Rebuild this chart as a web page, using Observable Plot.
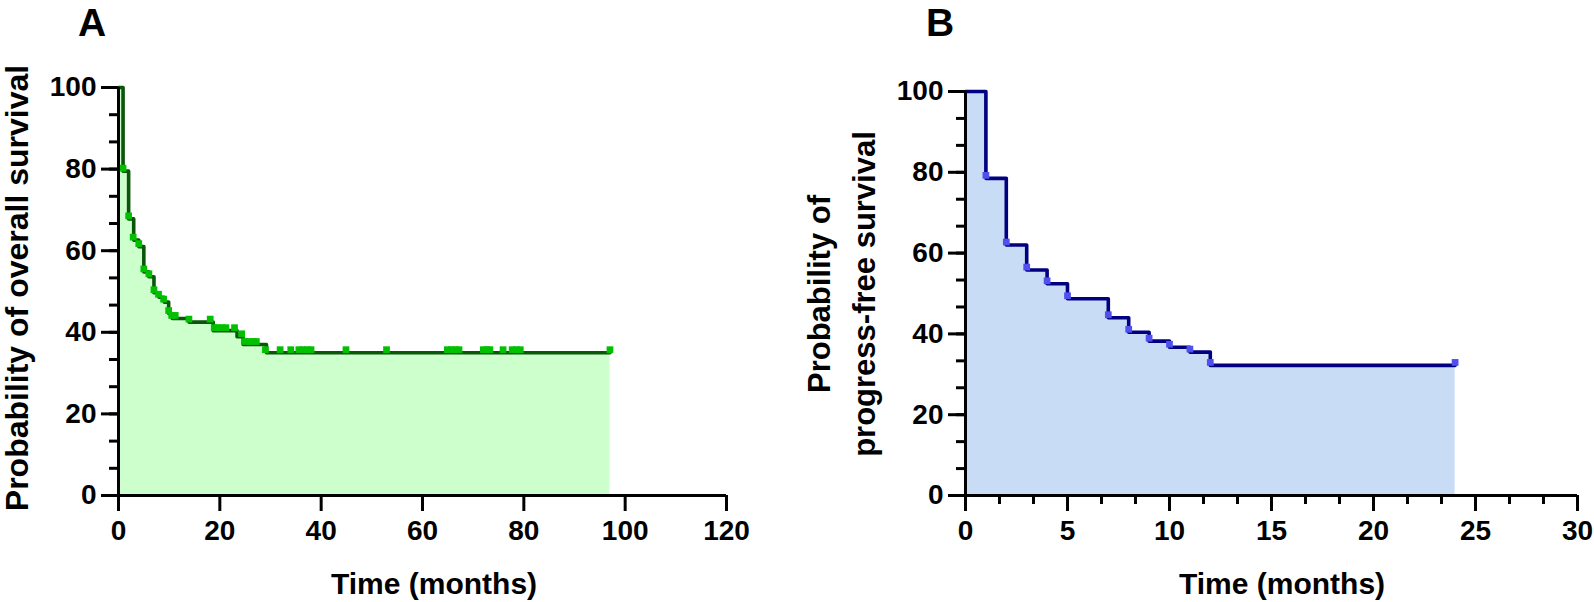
<!DOCTYPE html>
<html><head><meta charset="utf-8">
<script src="https://cdn.jsdelivr.net/npm/d3@7"></script>
<script src="https://cdn.jsdelivr.net/npm/@observablehq/plot@0.6"></script>
<style>
html,body{margin:0;padding:0;background:#fff;}
#wrap{position:relative;width:1594px;height:602px;overflow:hidden;font-family:"Liberation Sans",Arial,sans-serif;font-weight:bold;color:#000;background:#fff;}
.panel{position:absolute;top:0;}
.panel svg{overflow:visible;}
.lbl{position:absolute;white-space:nowrap;font-weight:bold;line-height:1;}
.rot{transform:translate(-50%,-50%) rotate(-90deg);text-align:center;}
</style></head><body><div id="wrap"></div>
<script>
// ---- Panel A: overall survival (step times and survival after each step, %)
const osTime = [0, 0.9, 2.0, 3.0, 4.0, 5.0, 6.0, 7.0, 8.0, 9.0, 9.9, 10.6, 13.9, 18.7, 23.4, 24.6, 29.2, 97];
const osSurv = [100, 79.5, 67.8, 62.6, 61.0, 54.8, 53.6, 49.7, 48.6, 47.4, 44.6, 43.4, 42.5, 40.4, 38.9, 37.0, 35.0, 35.0];
// censor marks
const osCensTime = [0.9, 2.0, 2.9, 4.0, 5.0, 6.0, 7.0, 7.9, 8.9, 9.9, 10.5, 11.2, 13.9, 18.1, 18.9, 19.6, 20.4, 21.2, 22.9, 24.3, 25.0, 25.8, 26.6, 27.2, 29.0, 31.9, 34.0, 35.6, 36.4, 37.2, 38.0, 44.9, 52.9, 64.9, 65.7, 66.5, 67.2, 72.0, 72.7, 73.3, 75.9, 77.7, 78.5, 79.3, 97];
const osCensSurv = [79.5, 67.8, 62.6, 61.0, 54.8, 53.6, 49.7, 48.6, 47.4, 44.6, 43.4, 43.4, 42.5, 42.5, 40.4, 40.4, 40.4, 40.4, 40.4, 38.9, 37.0, 37.0, 37.0, 37.0, 35.0, 35.0, 35.0, 35.0, 35.0, 35.0, 35.0, 35.0, 35.0, 35.0, 35.0, 35.0, 35.0, 35.0, 35.0, 35.0, 35.0, 35.0, 35.0, 35.0, 35.0];
const osXTicks = [0, 20, 40, 60, 80, 100, 120];

// ---- Panel B: progress-free survival
const pfsTime = [0, 1, 2, 3, 4, 5, 7, 8, 9, 10, 11, 12, 24];
const pfsSurv = [100, 78.5, 62.0, 55.8, 52.4, 48.7, 44.0, 40.4, 38.2, 36.7, 35.5, 32.2, 32.2];
const pfsCensTime = [1, 2, 3, 4, 5, 7, 8, 9, 10, 11, 12, 24];
const pfsCensSurv = [78.5, 62.0, 55.8, 52.4, 48.7, 44.0, 40.4, 38.2, 36.7, 35.5, 32.2, 32.2];
const pfsXTicks = [0, 5, 10, 15, 20, 25, 30];

const yTicks = [0, 20, 40, 60, 80, 100];

function kmPlot(cfg) {
  const rows = cfg.time.map((t, i) => ({t, s: cfg.surv[i]}));
  const cens = cfg.cTime.map((t, i) => ({t, s: cfg.cSurv[i]}));
  const yMinor = d3.range(0, 100.01, 20 / 3);
  const xMax = cfg.xTicks[cfg.xTicks.length - 1];
  const marks = [
    Plot.areaY(rows, {x: "t", y: "s", curve: "step-after", fill: cfg.fill}),
    Plot.line(rows, {x: "t", y: "s", curve: "step-after", stroke: cfg.line, strokeWidth: 3.6}),
    Plot.dot(cens, {x: "t", y: "s", symbol: "square", r: 3.8, fill: cfg.mark, stroke: "none", dy: -3}),
    Plot.ruleX([0], {stroke: "black", strokeWidth: 3}),
    Plot.ruleY([0], {stroke: "black", strokeWidth: 3}),
    Plot.axisY({ticks: yMinor, tickSize: 9, fill: "none", stroke: "black", strokeWidth: 3, label: null}),
    Plot.axisY({ticks: yTicks, tickSize: 17, tickPadding: 5, stroke: "black", strokeWidth: 3, fontSize: 28, fontWeight: "bold", label: null}),
    Plot.axisX({ticks: cfg.xTicks, tickSize: 16, tickPadding: 9, stroke: "black", strokeWidth: 3, fontSize: 28, fontWeight: "bold", label: null})
  ];
  if (cfg.xMinor) marks.push(Plot.axisX({ticks: d3.range(0, xMax + 0.01, cfg.xMinor), tickSize: 9, fill: "none", stroke: "black", strokeWidth: 3, label: null}));
  return Plot.plot({
    width: cfg.width, height: 602,
    marginLeft: cfg.ml, marginRight: cfg.mr, marginTop: cfg.mt, marginBottom: 107,
    x: {domain: [0, xMax]}, y: {domain: [0, 100]},
    style: {fontFamily: "'Liberation Sans', Arial, sans-serif", color: "black", background: "transparent", overflow: "visible"},
    marks
  });
}

const wrap = document.getElementById("wrap");
function addPanel(node, left) {
  const d = document.createElement("div");
  d.className = "panel"; d.style.left = left + "px";
  d.appendChild(node); wrap.appendChild(d);
}
function addLabel(html, css, cls) {
  const d = document.createElement("div");
  d.className = "lbl" + (cls ? " " + cls : "");
  d.innerHTML = html;
  Object.assign(d.style, css);
  wrap.appendChild(d);
}

addPanel(kmPlot({time: osTime, surv: osSurv, cTime: osCensTime, cSurv: osCensSurv, xTicks: osXTicks,
  fill: "#ccffcc", line: "#0a560a", mark: "#00c000", width: 760, ml: 118, mr: 34, mt: 87}), 0);
addPanel(kmPlot({time: pfsTime, surv: pfsSurv, cTime: pfsCensTime, cSurv: pfsCensSurv, xTicks: pfsXTicks, xMinor: 5 / 3,
  fill: "#c8dcf5", line: "#000080", mark: "#5050f0", width: 797, ml: 168, mr: 17, mt: 91}), 797);

addLabel("A", {left: "78px", top: "3px", fontSize: "39px"});
addLabel("B", {left: "926px", top: "3px", fontSize: "39px"});
addLabel("Time (months)", {left: "434px", top: "569px", fontSize: "30px", transform: "translateX(-50%)"});
addLabel("Time (months)", {left: "1282px", top: "569px", fontSize: "30px", transform: "translateX(-50%)"});
addLabel("Probability of overall survival", {left: "17px", top: "288px", fontSize: "32px"}, "rot");
addLabel("Probability of<br>progress-free survival", {left: "843px", top: "294px", fontSize: "31px", lineHeight: "1.45"}, "rot");
</script></body></html>
